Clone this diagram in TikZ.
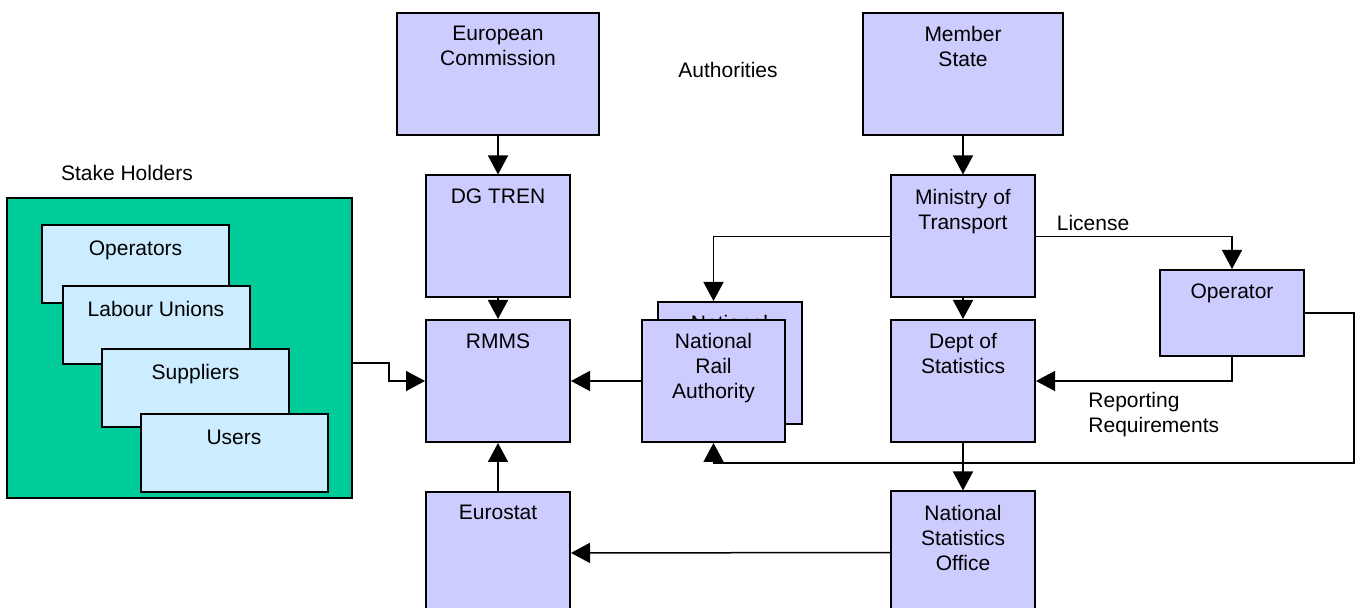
\documentclass[tikz,border=0pt]{standalone}
\usepackage{fontspec}
\setmainfont{Liberation Sans}
\usetikzlibrary{arrows.meta}
\definecolor{unitfill}{HTML}{CCCCFF}
\definecolor{holdergreen}{HTML}{00CC99}
\definecolor{groupfill}{HTML}{CCECFF}
\tikzset{
  unit/.style={draw, line width=1pt, fill=unitfill, inner sep=0pt,
    minimum width=72pt, minimum height=61pt},
  wide/.style={minimum width=101pt},
  group/.style={draw, line width=1pt, fill=groupfill, inner sep=0pt,
    minimum width=93.5pt, minimum height=39pt},
  holder/.style={draw, line width=1pt, fill=holdergreen, inner sep=0pt,
    minimum width=172.5pt, minimum height=150pt},
  heading/.style={label={[anchor=north, yshift=-7pt, align=center, inner sep=0pt]north:#1}},
  subheading/.style={label={[anchor=north, yshift=-8pt, align=center, inner sep=0pt]north:#1}},
  caption/.style={inner sep=0pt, align=left}
}
\begin{document}
\begin{tikzpicture}[x=0.5pt, y=-0.5pt, font=\fontsize{10.5}{12.5}\selectfont]
  \useasboundingbox (0,0) rectangle (1359,608);
  % stake holders
  \draw
    (179.5,348) node[holder] (stake){}
    (135.5,264) node[group, subheading=Operators] (operators){}
    (156,325) node[group, subheading={Labour Unions}] (unions){}
    (195.5,388) node[group, subheading=Suppliers] (suppliers){}
    (234,453.5) node[group, subheading=Users] (users){}
    (127,173) node[caption] (stakecap){Stake Holders};
  % authorities
  \draw
    (498,74) node[unit, wide, heading={European\\Commission}] (ec){}
    (963,74) node[unit, minimum width=100pt, heading={Member\\State}] (ms){}
    (498,236.5) node[unit, heading={DG TREN}] (dg){}
    (963,236.5) node[unit, heading={Ministry of\\Transport}] (mot){}
    (498,381) node[unit, heading=RMMS] (rmms){}
    (729.5,363) node[unit, heading={National\\Rail\\Authority}] (nraback){}
    (713.5,381) node[unit, minimum width=71.5pt, heading={National\\Rail\\Authority}] (nra){}
    (963,381) node[unit, heading={Dept of\\Statistics}] (dept){}
    (1232,313) node[unit, minimum height=43pt, heading=Operator] (op){}
    (498,553) node[unit, heading=Eurostat] (eurostat){}
    (963,552.5) node[unit, heading={National\\Statistics\\Office}] (nso){}
    (728,70) node[caption] (authcap){Authorities}
    (1093,223) node[caption] (license){License}
    (1088,392) node[caption, anchor=north west] (reporting){Reporting\\Requirements};
  \coordinate (bend) at (389,363);
  \coordinate (loop) at (1354,463);
  \begin{scope}[-{Triangle[length=9.5pt,width=10pt]}, line width=0.75pt]
    \draw (ec) to (dg);
    \draw (ms) to (mot);
    \draw (dg) to (rmms);
    \draw (mot) to (dept);
    \draw (eurostat) to (rmms);
    \draw (nra) to (rmms);
    \draw (dept) to (nso);
    \draw (nso) to (eurostat);
    \draw (mot.west) -| (nra.north |- nraback.north);
    \draw (mot.east) -| (op.north);
    \draw (op.south) |- (dept.east);
    \draw (op.east) -| (loop) -| (nra.south);
    \draw ([yshift=-7.5pt]stake.east) -- (bend) |- (rmms.west);
  \end{scope}
\end{tikzpicture}
\end{document}
